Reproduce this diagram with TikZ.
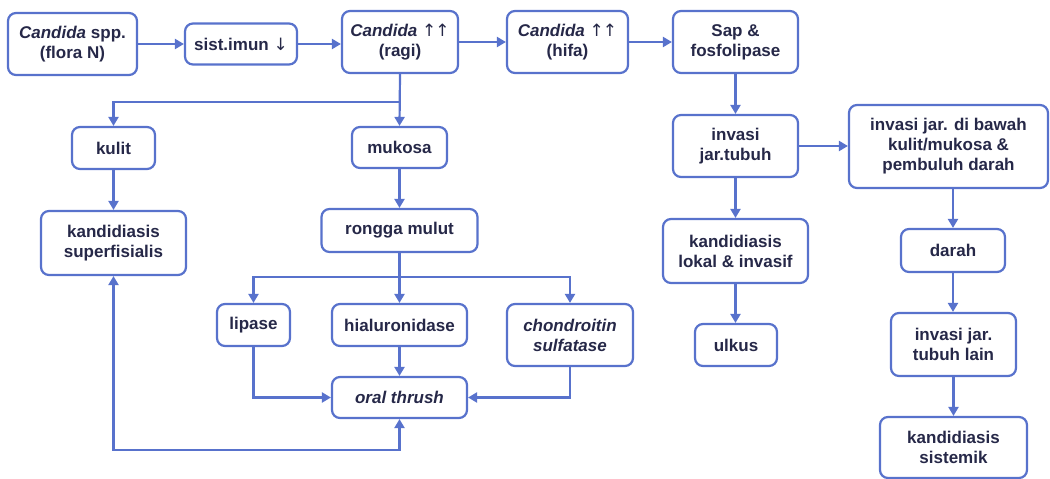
\documentclass[tikz,border=0pt]{standalone}
\usepackage{fontspec}
\setmainfont{Liberation Sans}
\newfontfamily\arrfont{DejaVu Sans}
\usetikzlibrary{arrows.meta}
\definecolor{bline}{RGB}{88,114,204}
\definecolor{tnavy}{RGB}{38,40,72}
\newcommand{\uparr}{{\arrfont\mdseries ↑\kern-1pt↑}}
\newcommand{\dnarr}{{\arrfont\mdseries ↓}}
\begin{document}
\begin{tikzpicture}[x=1pt,y=-1pt,
  box/.style={draw=bline, line width=2.2pt, rounded corners=8pt, fill=white,
    align=center, inner sep=2pt, text=tnavy,
    font=\fontsize{17}{20}\selectfont\bfseries},
  arr/.style={draw=bline, line width=2.2pt, -{Triangle[length=9pt,width=10pt]}},
  both/.style={draw=bline, line width=2.2pt, {Triangle[length=9pt,width=10pt]}-{Triangle[length=9pt,width=10pt]}}]
\useasboundingbox (0,0) rectangle (1050,479);
% nodes
\node[box, minimum width=129pt, minimum height=62pt] (c1) at (72.5,44) {\textit{Candida} spp.\\(flora N)};
\node[box, minimum width=112pt, minimum height=41pt] (imun) at (241,44) {sist.imun \dnarr};
\node[box, minimum width=116pt, minimum height=62pt] (ragi) at (400,42) {\textit{Candida} \uparr\\(ragi)};
\node[box, minimum width=121pt, minimum height=62pt] (hifa) at (567.5,42) {\textit{Candida} \uparr\\(hifa)};
\node[box, minimum width=125pt, minimum height=62pt] (sap) at (735.5,42) {Sap \&\\fosfolipase};
\node[box, minimum width=83pt, minimum height=42pt] (kulit) at (113.5,148) {kulit};
\node[box, minimum width=95pt, minimum height=41pt] (mukosa) at (399.5,147.5) {mukosa};
\node[box, minimum width=145pt, minimum height=64pt] (superf) at (113.5,243) {kandidiasis\\superfisialis};
\node[box, minimum width=156pt, minimum height=43pt] (rongga) at (399.5,230.5) {rongga mulut};
\node[box, minimum width=73pt, minimum height=42pt] (lipase) at (253.5,325) {lipase};
\node[box, minimum width=135pt, minimum height=42pt] (hial) at (399.5,325) {hialuronidase};
\node[box, minimum width=126pt, minimum height=62pt] (chond) at (570,335) {\textit{chondroitin}\\\textit{sulfatase}};
\node[box, minimum width=135pt, minimum height=41pt] (oral) at (399.5,397.5) {\textit{oral thrush}};
\node[box, minimum width=125pt, minimum height=62pt] (invt) at (735.5,146) {invasi\\jar.tubuh};
\node[box, minimum width=199pt, minimum height=83pt] (bawah) at (948.5,146.5) {invasi jar. di bawah\\kulit/mukosa \&\\pembuluh darah};
\node[box, minimum width=145pt, minimum height=64pt] (lokal) at (735.5,251) {kandidiasis\\lokal \& invasif};
\node[box, minimum width=82pt, minimum height=42pt] (ulkus) at (736,345) {ulkus};
\node[box, minimum width=104pt, minimum height=43pt] (darah) at (953,250.5) {darah};
\node[box, minimum width=125pt, minimum height=63pt] (lain) at (953.5,344.5) {invasi jar.\\tubuh lain};
\node[box, minimum width=147pt, minimum height=61pt] (sist) at (953.5,447.5) {kandidiasis\\sistemik};
% branch points
\coordinate (b1) at (400,102);
\coordinate (b2) at (399.5,277);
% connectors
\draw[arr] (c1.east) -- (imun.west);
\draw[arr] (imun.east) -- (imun.east -| ragi.west);
\draw[arr] (ragi.east) -- (hifa.west);
\draw[arr] (hifa.east) -- (sap.west);
\draw[arr] (ragi.south) -- (mukosa.north);
\draw[arr] (b1) -| (kulit.north);
\draw[arr] (kulit.south) -- (superf.north);
\draw[arr] (mukosa.south) -- (rongga.north);
\draw[arr] (rongga.south) -- (hial.north);
\draw[arr] (b2) -| (lipase.north);
\draw[arr] (b2) -| (chond.north);
\draw[arr] (hial.south) -- (oral.north);
\draw[arr] (lipase.south) |- (oral.west);
\draw[arr] (chond.south) |- (oral.east);
\draw[both] (superf.south) -- (superf.south |- 0,450) -| (oral.south);
\draw[arr] (sap.south) -- (invt.north);
\draw[arr] (invt.east) -- (invt.east -| bawah.west);
\draw[arr] (invt.south) -- (lokal.north);
\draw[arr] (lokal.south) -- (lokal.south |- ulkus.north);
\draw[arr] (darah.north |- bawah.south) -- (darah.north);
\draw[arr] (darah.south) -- (darah.south |- lain.north);
\draw[arr] (lain.south) -- (lain.south |- sist.north);
\end{tikzpicture}
\end{document}
